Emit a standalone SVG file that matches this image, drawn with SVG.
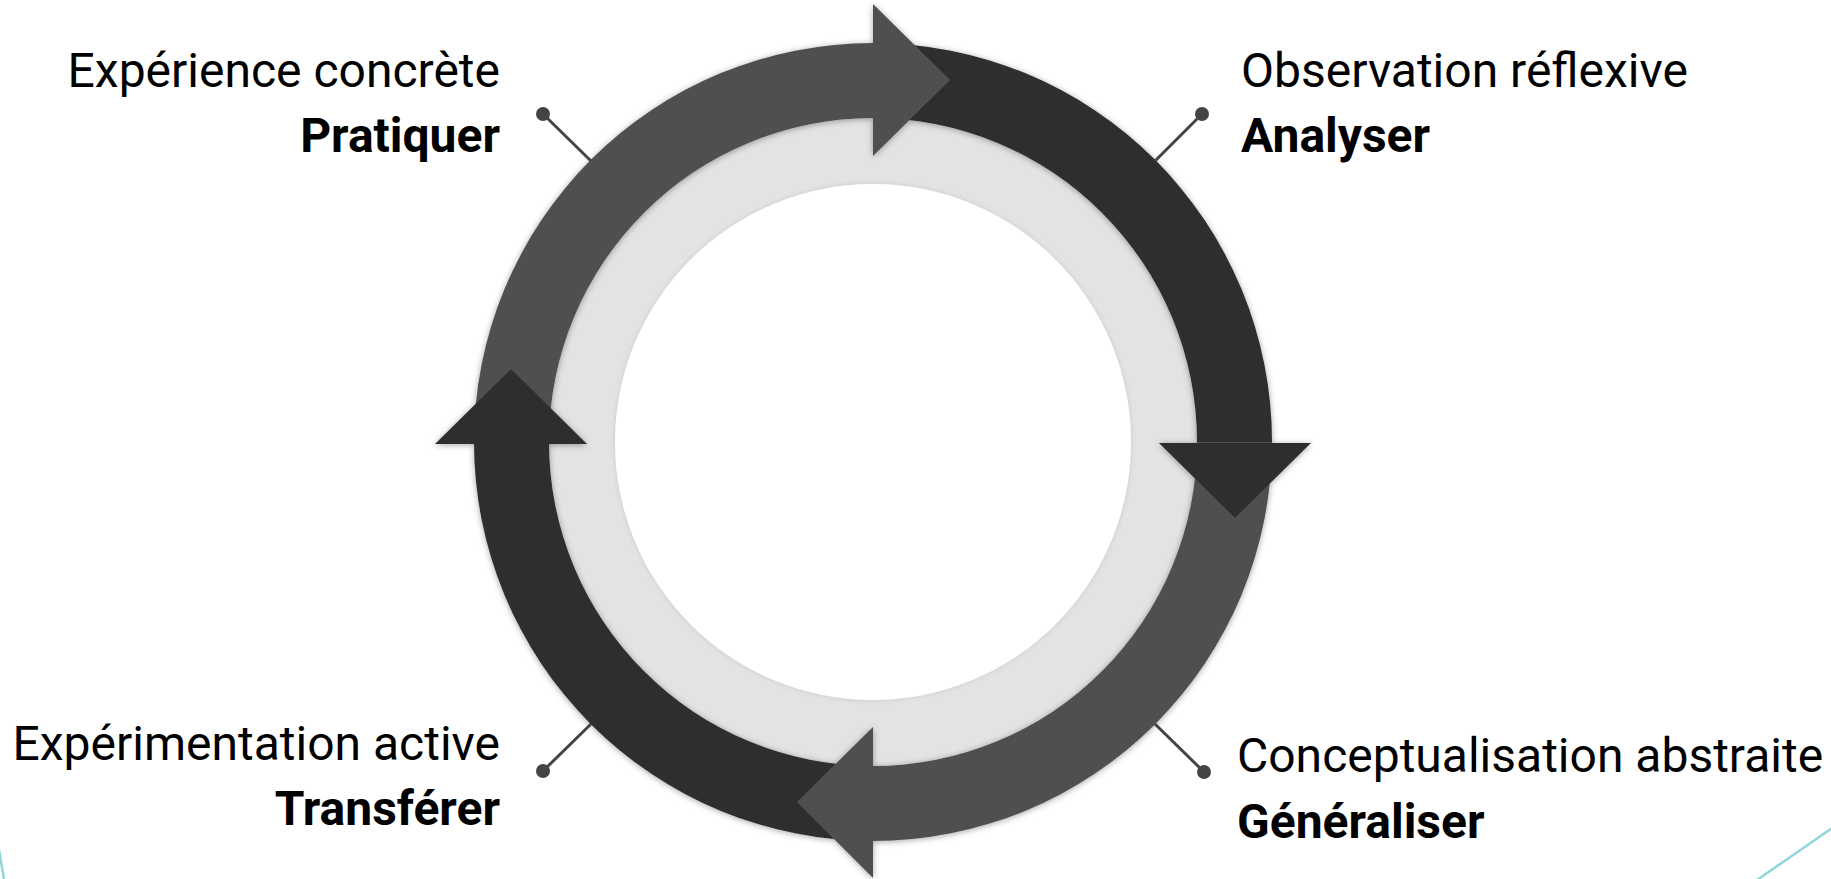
<svg xmlns="http://www.w3.org/2000/svg" width="1831" height="879" viewBox="0 0 1831 879">
<style>
.lbl{font-family:Roboto,"Liberation Sans",sans-serif;font-size:48px;fill:#000}
.b{font-weight:bold}
.end{text-anchor:end}
.med{fill:#505050}
.dark{fill:#2f2f2f}
.conn{stroke:#444;stroke-width:3;fill:none}
.dot{fill:#444}
.deco{stroke:#8fd6d8;stroke-width:2.5;fill:none}
</style>
<defs>
<filter id="sh" x="-10%" y="-10%" width="120%" height="120%">
<feDropShadow dx="0" dy="1" stdDeviation="3" flood-color="#000" flood-opacity="0.35"/>
</filter>
<filter id="sh2" x="-10%" y="-10%" width="120%" height="120%">
<feDropShadow dx="0" dy="0" stdDeviation="2.5" flood-color="#000" flood-opacity="0.12"/>
</filter>
</defs>
<rect width="1831" height="879" fill="#fff"/>
<g id="deco">
<line class="deco" x1="-1" y1="850" x2="4" y2="879"/>
<line class="deco" x1="1757" y1="880" x2="1835" y2="826"/>
</g>
<g id="background">
<circle cx="873" cy="442" r="324" fill="#e3e3e3"/>
<circle cx="873" cy="442" r="258" fill="#fff" filter="url(#sh2)"/>
</g>
<g id="cycle" filter="url(#sh)">
<path id="seg-tl" class="med" d="M474,442 A399,399 0 0 1 873,43 L873,118 A324,324 0 0 0 549,442 Z"/>
<path id="seg-tr" class="dark" d="M873,43 A399,399 0 0 1 1272,442 L1197,442 A324,324 0 0 0 873,118 Z"/>
<path id="seg-br" class="med" d="M1272,442 A399,399 0 0 1 873,841 L873,766 A324,324 0 0 0 1197,442 Z"/>
<path id="seg-bl" class="dark" d="M873,841 A399,399 0 0 1 474,442 L549,442 A324,324 0 0 0 873,766 Z"/>
<polygon id="head-top" class="med" points="873,4 950,80 873,156"/>
<polygon id="head-right" class="dark" points="1159,443 1235,518 1311,443"/>
<polygon id="head-bottom" class="med" points="873,727 797,802 873,878"/>
<polygon id="head-left" class="dark" points="435,444 511,369 587,444"/>
</g>
<g id="connectors">
<line class="conn" x1="543" y1="114" x2="591" y2="161"/>
<line class="conn" x1="1202" y1="114" x2="1155" y2="161"/>
<line class="conn" x1="543" y1="771" x2="591" y2="724"/>
<line class="conn" x1="1204" y1="772" x2="1155" y2="724"/>
<circle class="dot" cx="543" cy="114" r="7"/>
<circle class="dot" cx="1202" cy="114" r="7"/>
<circle class="dot" cx="543" cy="771" r="7"/>
<circle class="dot" cx="1204" cy="772" r="7"/>
</g>
<g id="node-pratiquer">
<text class="lbl end" x="500" y="87">Expérience concrète</text>
<text class="lbl b end" x="500" y="152">Pratiquer</text>
</g>
<g id="node-analyser">
<text class="lbl" x="1241" y="87">Observation réflexive</text>
<text class="lbl b" x="1241" y="152">Analyser</text>
</g>
<g id="node-generaliser">
<text class="lbl" x="1237" y="772">Conceptualisation abstraite</text>
<text class="lbl b" x="1237" y="838">Généraliser</text>
</g>
<g id="node-transferer">
<text class="lbl end" x="500" y="760">Expérimentation active</text>
<text class="lbl b end" x="500" y="825">Transférer</text>
</g>
</svg>
